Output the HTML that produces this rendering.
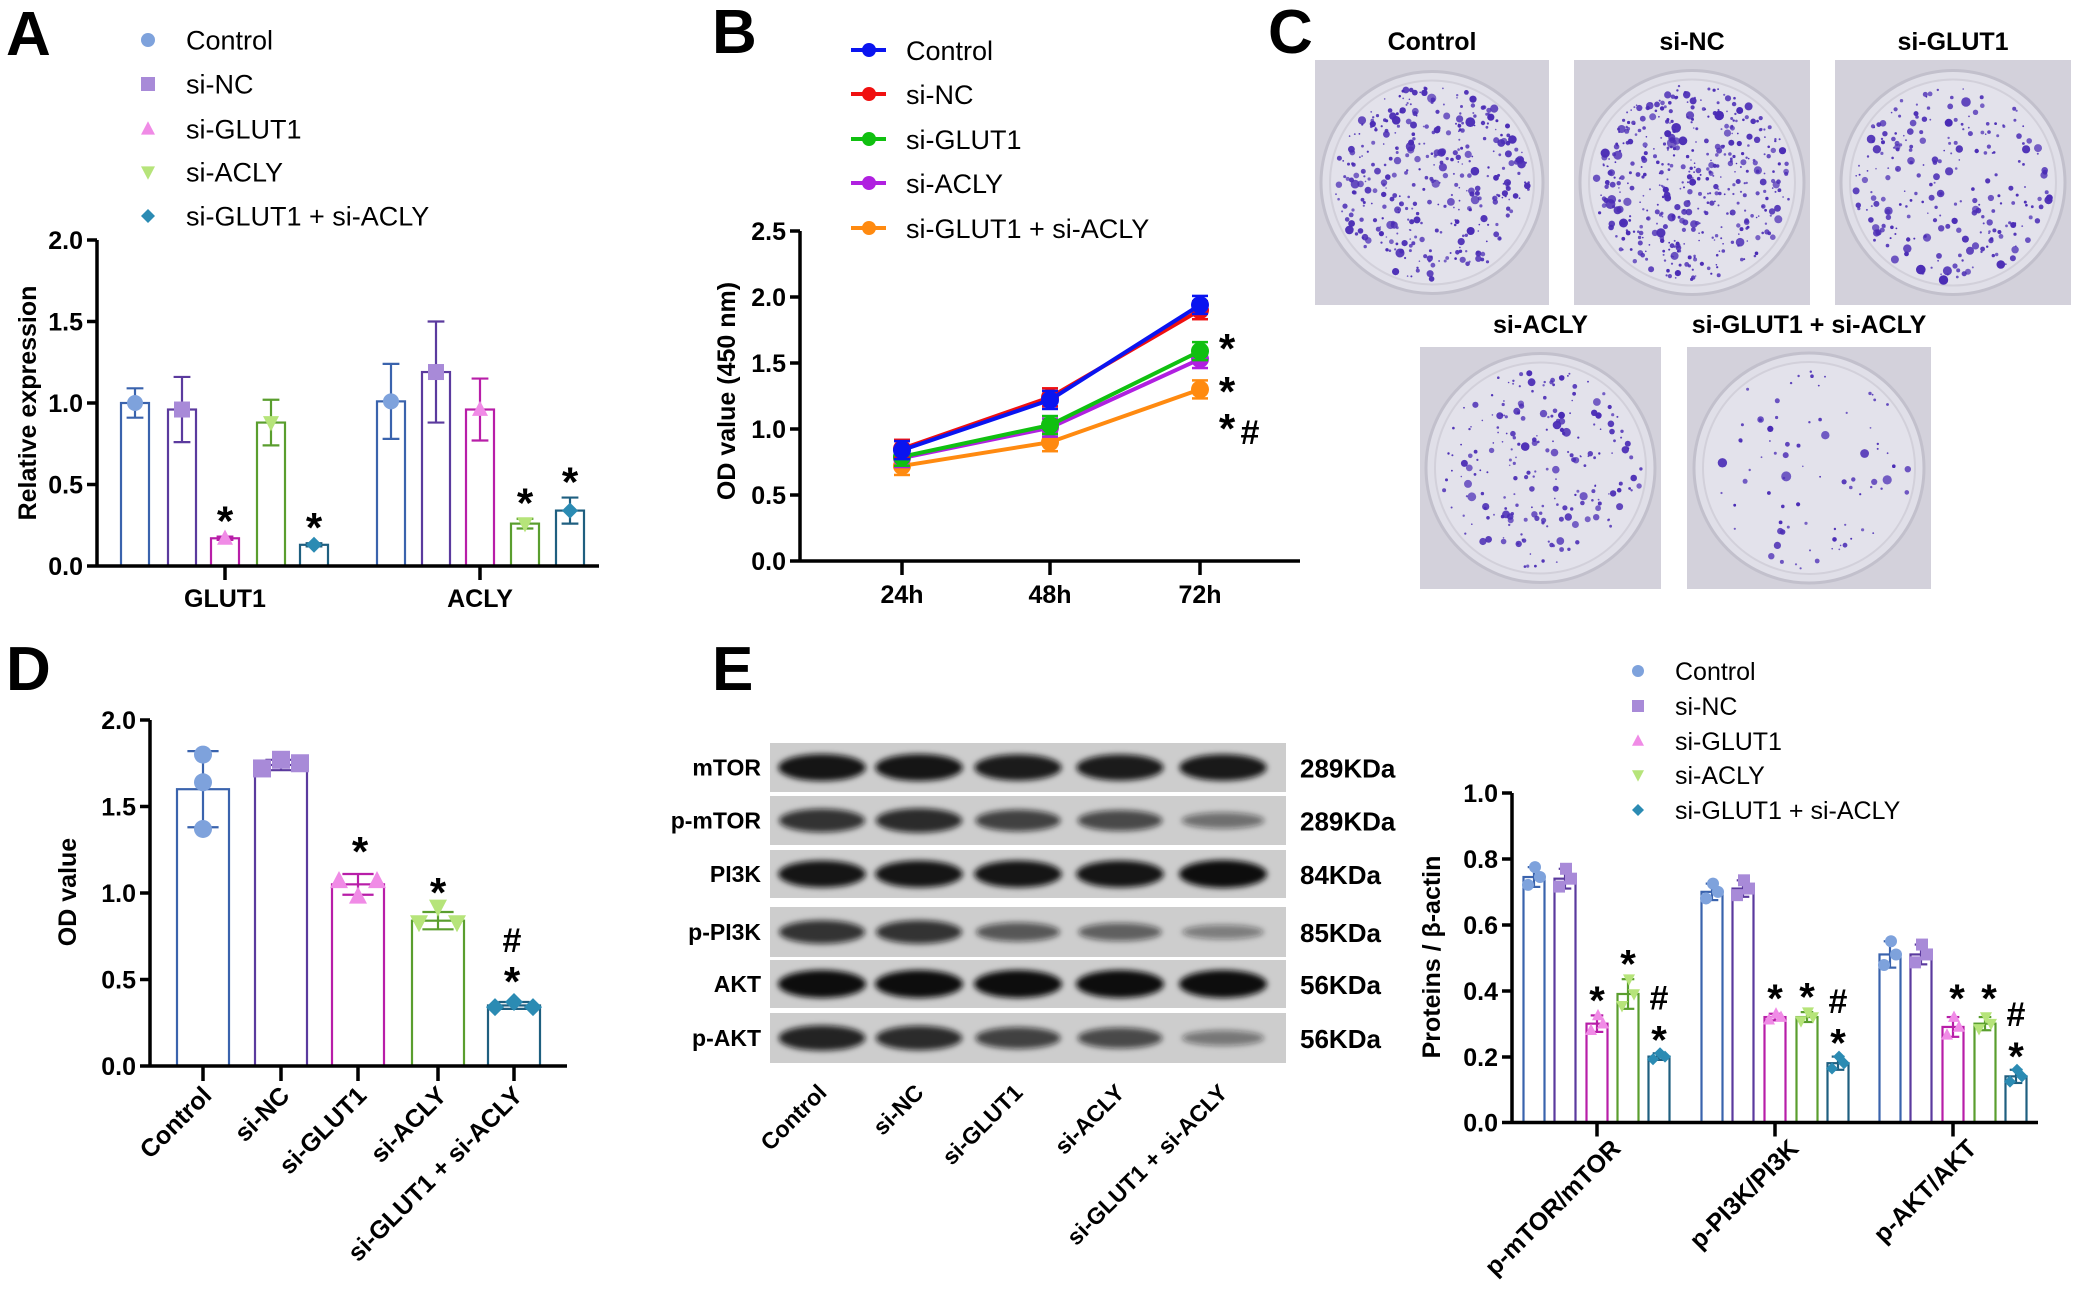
<!DOCTYPE html>
<html><head><meta charset="utf-8"><style>
html,body{margin:0;padding:0;background:#fff;}
svg{display:block;font-family:"Liberation Sans",Arial,sans-serif;}
</style></head><body>
<svg id="s" width="2079" height="1294" viewBox="0 0 2079 1294" xmlns="http://www.w3.org/2000/svg">
<rect width="2079" height="1294" fill="#fff"/>
<g id="g"></g>
</svg>
<script>
var out=[];
function P(s){out.push(s);}
function T(x,y,t,o){o=o||{};P('<text x="'+x+'" y="'+y+'" font-size="'+(o.fs||26)+'" font-weight="'+(o.b?'bold':'normal')+'" text-anchor="'+(o.a||'start')+'" fill="'+(o.c||'#000')+'"'+(o.r!=null?' transform="rotate('+o.r+' '+x+' '+y+')"':'')+'>'+t+'</text>');}
function L(x1,y1,x2,y2,c,w){P('<line x1="'+x1+'" y1="'+y1+'" x2="'+x2+'" y2="'+y2+'" stroke="'+c+'" stroke-width="'+w+'"/>');}
var bc=['#3a63ad','#5b3a9e','#b81ea8','#5a9e2e','#1f5f80'];
var mc=['#7ea2dc','#a88ad8','#f08be6','#b6e47a','#2b8bb3'];
function mk(i,x,y,s){s=s||7;var c=mc[i];
 if(i==0)P('<circle cx="'+x+'" cy="'+y+'" r="'+s+'" fill="'+c+'"/>');
 else if(i==1)P('<rect x="'+(x-s)+'" y="'+(y-s)+'" width="'+2*s+'" height="'+2*s+'" fill="'+c+'"/>');
 else if(i==2)P('<polygon points="'+x+','+(y-s*1.1)+' '+(x+s)+','+(y+s*0.8)+' '+(x-s)+','+(y+s*0.8)+'" fill="'+c+'"/>');
 else if(i==3)P('<polygon points="'+x+','+(y+s*1.1)+' '+(x+s)+','+(y-s*0.8)+' '+(x-s)+','+(y-s*0.8)+'" fill="'+c+'"/>');
 else P('<polygon points="'+x+','+(y-s)+' '+(x+s)+','+y+' '+x+','+(y+s)+' '+(x-s)+','+y+'" fill="'+c+'"/>');}
function legend(x,tx,ys,fs,s){var n=['Control','si-NC','si-GLUT1','si-ACLY','si-GLUT1 + si-ACLY'];for(var i=0;i<5;i++){mk(i,x,ys[i],s);T(tx,ys[i]+fs*0.36,n[i],{fs:fs});}}
function star(x,yc,fs){fs=fs||42;T(x,yc+fs*0.5,'*',{fs:fs,b:1,a:'middle'});}
function hash(x,yc,fs){fs=fs||34;T(x,yc+fs*0.36,'#',{fs:fs,b:1,a:'middle'});}
function yaxis(x,y0,y1,ticks,vals,fs){L(x,y0+1.5,x,y1,'#000',3.5);for(var i=0;i<ticks.length;i++){L(x-10,ticks[i],x,ticks[i],'#000',3.5);T(x-14,ticks[i]+fs*0.36,vals[i],{fs:fs,b:1,a:'end'});}}
function bar(i,cx,w,y0,y,e1,e2,sw){P('<rect x="'+(cx-w/2)+'" y="'+y+'" width="'+w+'" height="'+(y0-y)+'" fill="none" stroke="'+bc[i]+'" stroke-width="'+(sw||2.2)+'"/>');
 if(e1!=null){L(cx,e1,cx,e2,bc[i],2.2);L(cx-w*0.3,e1,cx+w*0.3,e1,bc[i],2.2);L(cx-w*0.3,e2,cx+w*0.3,e2,bc[i],2.2);}}

// ===== Panel A =====
T(6,55,'A',{fs:62,b:1});
legend(148,186,[40,84,129,172,216],27,7);
(function(){var X=97,Y0=566,S=163;function y(v){return Y0-v*S;}
var xs=[135,182,225,271,314,391,436,480,525,570];
var v=[1.0,0.96,0.17,0.88,0.13,1.01,1.19,0.96,0.26,0.34];
var e=[0.09,0.2,0.01,0.14,0.01,0.23,0.31,0.19,0.03,0.08];
for(var k=0;k<10;k++){var i=k%5;bar(i,xs[k],28,Y0,y(v[k]),y(v[k]+e[k]),y(v[k]-e[k]));mk(i,xs[k],y(v[k]),8);}
star(225,y(0.18)-22);star(314,y(0.14)-22);star(525,y(0.29)-22);star(570,y(0.42)-22);
L(X,Y0,599,Y0,'#000',3.5);L(225,Y0,225,Y0+14,'#000',3.5);L(480,Y0,480,Y0+14,'#000',3.5);
yaxis(X,Y0,240,[240,321.5,403,484.5,566],['2.0','1.5','1.0','0.5','0.0'],25);
T(225,607,'GLUT1',{fs:25,b:1,a:'middle'});T(480,607,'ACLY',{fs:25,b:1,a:'middle'});
T(36,403,'Relative expression',{fs:25,b:1,a:'middle',r:-90});
})();

// ===== Panel B =====
T(712,53,'B',{fs:62,b:1});
(function(){var cols=['#0a14f0','#f01010','#10c010','#b020e0','#ff8a10'];var n=['Control','si-NC','si-GLUT1','si-ACLY','si-GLUT1 + si-ACLY'];var ly=[50,94,139,183,228];
for(var i=0;i<5;i++){L(851,ly[i],886,ly[i],cols[i],4);P('<circle cx="869" cy="'+ly[i]+'" r="7" fill="'+cols[i]+'"/>');T(906,ly[i]+10,n[i],{fs:27});}
var Y0=561,S=132;function y(v){return Y0-v*S;}var xs=[902,1050,1200];
var d=[[0.84,1.22,1.94],[0.85,1.24,1.9],[0.79,1.03,1.59],[0.78,1.01,1.53],[0.72,0.9,1.3]];
var ord=[4,3,2,1,0];
for(var q=0;q<5;q++){var i=ord[q];var pts=xs.map(function(x,j){return x+','+y(d[i][j]);}).join(' ');
 P('<polyline points="'+pts+'" fill="none" stroke="'+cols[i]+'" stroke-width="4"/>');
 for(var j=0;j<3;j++){var yy=y(d[i][j]);L(xs[j],yy-9,xs[j],yy+9,cols[i],2.5);L(xs[j]-8,yy-9,xs[j]+8,yy-9,cols[i],2.5);L(xs[j]-8,yy+9,xs[j]+8,yy+9,cols[i],2.5);P('<circle cx="'+xs[j]+'" cy="'+yy+'" r="9" fill="'+cols[i]+'"/>');}}
L(800,Y0,1300,Y0,'#000',3.5);xs.forEach(function(x){L(x,Y0,x,Y0+14,'#000',3.5);});
yaxis(800,Y0,231,[231,297,363,429,495,561],['2.5','2.0','1.5','1.0','0.5','0.0'],25);
T(902,603,'24h',{fs:25,b:1,a:'middle'});T(1050,603,'48h',{fs:25,b:1,a:'middle'});T(1200,603,'72h',{fs:25,b:1,a:'middle'});
T(735,391,'OD value (450 nm)',{fs:25,b:1,a:'middle',r:-90});
star(1227,342);star(1227,385);star(1227,422);hash(1250,432,34);
})();

// ===== Panel C =====
T(1268,53,'C',{fs:62,b:1});
var seed=7;function rnd(){seed=(seed*16807)%2147483647;return seed/2147483647;}
function plate(x1,y1,x2,y2,title,n,ty){var w=x2-x1,h=y2-y1,cx=(x1+x2)/2,cy=(y1+y2)/2,r=Math.min(w,h)/2-6;
P('<rect x="'+x1+'" y="'+y1+'" width="'+w+'" height="'+h+'" fill="#d3d1db"/>');
P('<circle cx="'+cx+'" cy="'+cy+'" r="'+r+'" fill="#e0dfe8" stroke="#c2c0cc" stroke-width="3"/>');
P('<circle cx="'+cx+'" cy="'+cy+'" r="'+(r-9)+'" fill="#e3e2eb" stroke="#d2d0da" stroke-width="2"/>');
for(var k=0;k<n;k++){var a=rnd()*6.283,rr=Math.sqrt(rnd())*(r-14);var s=0.8+rnd()*rnd()*4.5;
P('<circle cx="'+(cx+rr*Math.cos(a)).toFixed(1)+'" cy="'+(cy+rr*Math.sin(a)).toFixed(1)+'" r="'+s.toFixed(1)+'" fill="#4a2cb5" fill-opacity="'+(0.7+rnd()*0.3).toFixed(2)+'"/>');}
T(cx,ty,title,{fs:25,b:1,a:'middle'});}
plate(1315,60,1549,305,'Control',380,50);
plate(1574,60,1810,305,'si-NC',460,50);
plate(1835,60,2071,305,'si-GLUT1',240,50);
plate(1420,347,1661,589,'si-ACLY',220,333);
plate(1687,347,1931,589,'si-GLUT1 + si-ACLY',80,333);

// ===== Panel D =====
T(6,690,'D',{fs:62,b:1});
(function(){var Y0=1066,S=173;function y(v){return Y0-v*S;}var xs=[203,281,358,438,514];
var v=[1.6,1.74,1.05,0.84,0.35];var e=[0.22,0.03,0.06,0.05,0.02];
var pts=[[1.8,1.64,1.37],[1.72,1.77,1.75],[1.07,0.98,1.07],[0.83,0.92,0.83],[0.34,0.37,0.34]];
for(var i=0;i<5;i++){bar(i,xs[i],52,Y0,y(v[i]),y(v[i]+e[i]),y(v[i]-e[i]));
 var dx=(i==0)?[0,0,0]:[-19,0,19];for(var j=0;j<3;j++)mk(i,xs[i]+dx[j],y(pts[i][j]),9);}
star(360,845);star(438,886);star(512,975);hash(512,940,34);
L(150,Y0,567,Y0,'#000',3.5);xs.forEach(function(x){L(x,Y0,x,Y0+15,'#000',3.5);});
yaxis(150,Y0,720,[720,806.5,893,979.5,1066],['2.0','1.5','1.0','0.5','0.0'],25);
var n=['Control','si-NC','si-GLUT1','si-ACLY','si-GLUT1 + si-ACLY'];
for(var i=0;i<5;i++)T(xs[i]+10,1097,n[i],{fs:25,b:1,a:'end',r:-45});
T(76,892,'OD value',{fs:25,b:1,a:'middle',r:-90});
})();

// ===== Panel E blots =====
T(712,690,'E',{fs:62,b:1});
(function(){var rows=[[743,792,'mTOR','289KDa',[0.95,0.95,0.9,0.9,0.92]],[796,845,'p-mTOR','289KDa',[0.75,0.8,0.65,0.6,0.35]],[850,898,'PI3K','84KDa',[0.95,0.95,0.95,0.95,1]],[907,957,'p-PI3K','85KDa',[0.75,0.75,0.5,0.45,0.25]],[960,1008,'AKT','56KDa',[1,1,1,1,1]],[1013,1063,'p-AKT','56KDa',[0.85,0.8,0.65,0.6,0.3]]];
var lx=[822,919,1018,1120,1223];
P('<defs><filter id="bl" x="-20%" y="-50%" width="140%" height="200%"><feGaussianBlur stdDeviation="3"/></filter></defs>');
rows.forEach(function(r){var h=r[1]-r[0],cy=(r[0]+r[1])/2;
P('<rect x="770" y="'+r[0]+'" width="516" height="'+h+'" fill="#cdcdcd"/>');
for(var i=0;i<5;i++){var s=r[4][i];P('<ellipse cx="'+lx[i]+'" cy="'+cy+'" rx="'+(40+s*4)+'" ry="'+(5+s*9)+'" fill="#111" fill-opacity="'+(0.25+s*0.75).toFixed(2)+'" filter="url(#bl)"/>');}
T(761,cy+8,r[2],{fs:23,b:1,a:'end'});T(1300,cy+10,r[3],{fs:26,b:1});});
var n=['Control','si-NC','si-GLUT1','si-ACLY','si-GLUT1 + si-ACLY'];
for(var i=0;i<5;i++)T(lx[i]+6,1094,n[i],{fs:23,b:1,a:'end',r:-45});
})();

// ===== Panel E bar chart =====
legend(1638,1675,[671,706,741,775,810],25,6);
(function(){var Y0=1122.5,S=329.5;function y(v){return Y0-v*S;}
var g=[[1534,1565,1597,1628,1659],[1712,1743,1775,1807,1838],[1890,1921,1953,1985,2016]];
var v=[[0.745,0.74,0.30,0.39,0.20],[0.70,0.71,0.32,0.32,0.18],[0.51,0.51,0.29,0.30,0.14]];
var e=[[0.03,0.03,0.025,0.045,0.01],[0.025,0.025,0.01,0.015,0.02],[0.04,0.03,0.03,0.02,0.02]];
for(var a=0;a<3;a++)for(var i=0;i<5;i++){var cx=g[a][i],vv=v[a][i];bar(i,cx,21,Y0,y(vv),y(vv+e[a][i]),y(vv-e[a][i]));
 mk(i,cx-6,y(vv-e[a][i]*0.8),6);mk(i,cx+1,y(vv+e[a][i]),6);mk(i,cx+6,y(vv),6);}
function sh(x,top,h){star(x,top-20,40);if(h)hash(x,top-56,34);}
sh(1597,y(0.33));sh(1628,y(0.44));sh(1659,y(0.21),1);
sh(1775,y(0.335));sh(1807,y(0.34));sh(1838,y(0.2),1);
sh(1957,y(0.335));sh(1989,y(0.335));sh(2016,y(0.16),1);
L(1512,Y0,2038,Y0,'#000',3.5);[1597,1775,1953].forEach(function(x){L(x,Y0,x,Y0+14,'#000',3.5);});
yaxis(1512,Y0,793,[793,859,925,991,1057,1122.5],['1.0','0.8','0.6','0.4','0.2','0.0'],25);
T(1622,1150,'p-mTOR/mTOR',{fs:25,b:1,a:'end',r:-45});
T(1800,1150,'p-PI3K/PI3K',{fs:25,b:1,a:'end',r:-45});
T(1978,1150,'p-AKT/AKT',{fs:25,b:1,a:'end',r:-45});
T(1440,957,'Proteins / β-actin',{fs:25,b:1,a:'middle',r:-90});
})();
document.getElementById('g').innerHTML=out.join('');
</script>
</body></html>
